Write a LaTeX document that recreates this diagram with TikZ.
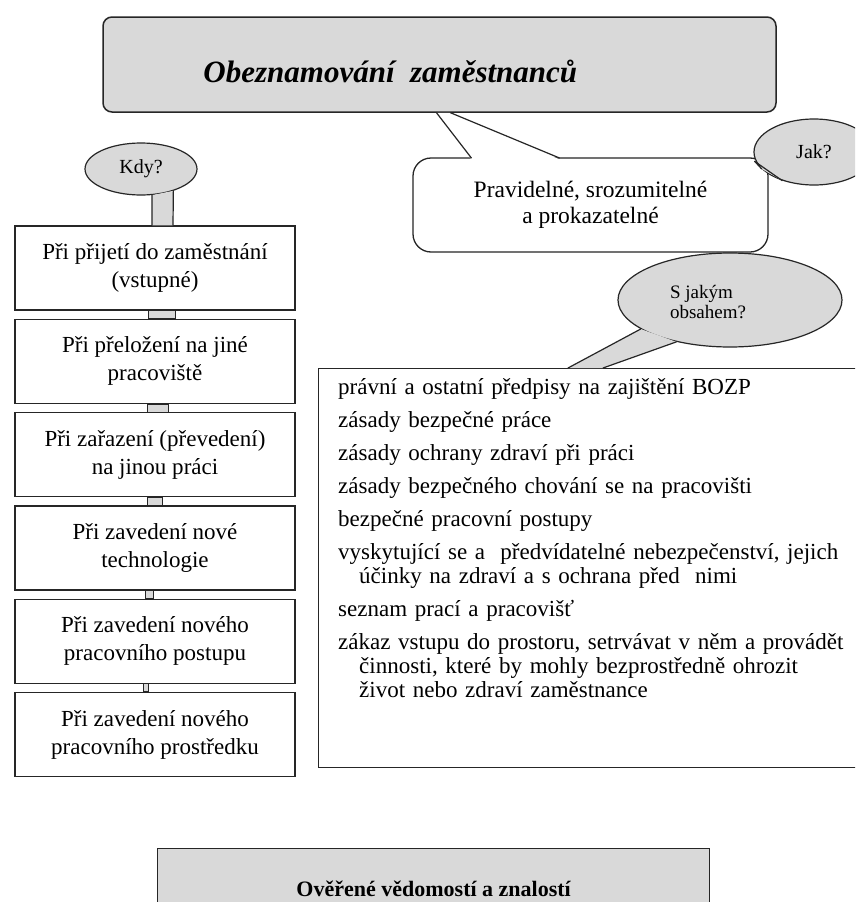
\documentclass[tikz,border=0pt]{standalone}
\usepackage{fontspec}
\setmainfont{Liberation Serif}
\usepackage{tikz}
\usetikzlibrary{shapes.geometric, positioning, calc}

\newcommand{\polozka}[1]{\hangindent=21pt\hangafter=1\relax #1\par}

\begin{document}
\begin{tikzpicture}[
    x=1pt, y=-1pt,
    node distance=8pt,
    heading/.style={rectangle, rounded corners=9pt, draw=black!85, line width=1.5pt, fill=black!15, minimum width=673pt, minimum height=95pt},
    box/.style={rectangle, draw=black!85, line width=1.3pt, fill=white, minimum width=280pt, minimum height=84pt, inner sep=0pt, align=center, font=\fontsize{23}{28}\selectfont},
    speech/.style={rectangle, rounded corners=18pt, draw=black!85, line width=1.3pt, fill=white, minimum width=355pt, minimum height=94pt, inner sep=0pt, align=center, font=\fontsize{23.5}{26}\selectfont},
    bubble/.style={ellipse, draw=black!85, line width=1.2pt, fill=black!15, inner sep=0pt, align=center, font=\fontsize{20}{20}\selectfont},
    tail/.style={draw=black!85, line width=1.2pt, line cap=round, line join=round},
    link/.style={draw=black!85, line width=0.9pt, fill=black!15},
    frame/.style={rectangle, draw=black!85, line width=1.3pt, fill=white, inner sep=0pt},
    listtext/.style={inner sep=0pt, text width=530pt, align=left, font=\fontsize{23}{24}\selectfont},
    result/.style={rectangle, draw=black!85, line width=1.3pt, fill=black!15, minimum width=552pt, minimum height=80pt, font=\fontsize{22}{22}\selectfont\bfseries}
]
\path[use as bounding box, fill=white] (0,0) rectangle (855,902);
\clip (0,0) rectangle (855,902);

\node[heading] (titul) at (439.5,64.5) {};
\node[anchor=base west, inner sep=0pt, font=\fontsize{31}{31}\selectfont\bfseries\itshape] (titultext) at ($(titul.west)+(101,18)$) {Obeznamování\ \ zaměstnanců};

\node[speech] (pravidelne) at (590.5,205) {Pravidelné, srozumitelné\\a prokazatelné};
\coordinate (tipL) at ($(titul.south)+(-3,0)$);
\coordinate (tipR) at ($(titul.south)+(11,0)$);
\fill[white] (tipL) -- (tipR) -- ($(pravidelne.north west)+(147,2)$) -- ($(pravidelne.north west)+(59,2)$) -- cycle;
\draw[tail] ($(pravidelne.north west)+(59,0.6)$) -- (tipL);
\draw[tail] ($(pravidelne.north west)+(147,0.6)$) -- (tipR);

\node[bubble, minimum width=120pt, minimum height=66pt] (jak) at (814,152) {Jak?};
\coordinate (jaktip) at ($(pravidelne.north east)+(-14,4)$);
\fill[black!15] (jak.198) -- (jaktip) -- (jak.222) -- cycle;
\draw[tail] (jak.198) -- (jaktip) -- (jak.222);

\node[bubble, minimum width=112pt, minimum height=52pt] (kdy) at (141,169) {Kdy?};

\node[box] (prijeti) at (155,268) {Při přijetí do zaměstnání\\(vstupné)};
\node[box, below=of prijeti] (prelozeni) {Při přeložení na jiné\\pracoviště};
\node[box, below=of prelozeni] (zarazeni) {Při zařazení (převedení)\\na jinou práci};
\node[box, below=of zarazeni] (technologie) {Při zavedení nové\\technologie};
\node[box, below=of technologie] (postup) {Při zavedení nového\\pracovního postupu};
\node[box, below=of postup] (prostredek) {Při zavedení nového\\pracovního prostředku};

\fill[black!15] (kdy.293) -- ($(prijeti.north)+(-3,0)$) -- ($(prijeti.north)+(18,0)$) -- (kdy.326) -- cycle;
\draw[tail] (kdy.293) -- ($(prijeti.north)+(-3,0)$);
\draw[tail] (kdy.326) -- ($(prijeti.north)+(18,0)$);

\draw[link] ($(prijeti.south)+(-7,0)$) rectangle ($(prelozeni.north)+(20,0)$);
\draw[link] ($(prelozeni.south)+(-8,0)$) rectangle ($(zarazeni.north)+(13,0)$);
\draw[link] ($(zarazeni.south)+(-8,0)$) rectangle ($(technologie.north)+(7,0)$);
\draw[link] ($(technologie.south)+(-10,0)$) rectangle ($(postup.north)+(-2,0)$);
\draw[link] ($(postup.south)+(-12,0)$) rectangle ($(prostredek.north)+(-7,0)$);

\node[frame, minimum width=560pt, minimum height=399pt, anchor=north west] (obsah) at (318,368) {};

\node[bubble, minimum width=224pt, minimum height=94pt] (obsahem) at (730,300) {};
\node[align=left, inner sep=0pt, font=\fontsize{19}{20}\selectfont] (obsahemtext) at ($(obsahem.center)+(-22,2)$) {S jakým\\obsahem?};
\fill[black!15] (obsahem.198) -- ($(obsah.north west)+(250,0)$) -- ($(obsah.north west)+(285,0)$) -- (obsahem.218) -- cycle;
\draw[tail] (obsahem.198) -- ($(obsah.north west)+(250,0)$);
\draw[tail] (obsahem.218) -- ($(obsah.north west)+(285,0)$);

\node[listtext, anchor=base west] (obsahtext) at ($(obsah.north west)+(20,26)$) {\setlength{\parskip}{9pt}%
\polozka{právní a ostatní předpisy na zajištění BOZP}
\polozka{zásady bezpečné práce}
\polozka{zásady ochrany zdraví při práci}
\polozka{zásady bezpečného chování se na pracovišti}
\polozka{bezpečné pracovní postupy}
\polozka{vyskytující se a\ \ předvídatelné nebezpečenství, jejich\break účinky na zdraví a s ochrana před\ \ nimi}
\polozka{seznam prací a pracovišť}
\polozka{zákaz vstupu do prostoru, setrvávat v něm a provádět\break činnosti, které by mohly bezprostředně ohrozit\break život nebo zdraví zaměstnance}};

\node[result, anchor=north west] (overeni) at (157,848) {Ověřené vědomostí a znalostí};
\end{tikzpicture}
\end{document}
